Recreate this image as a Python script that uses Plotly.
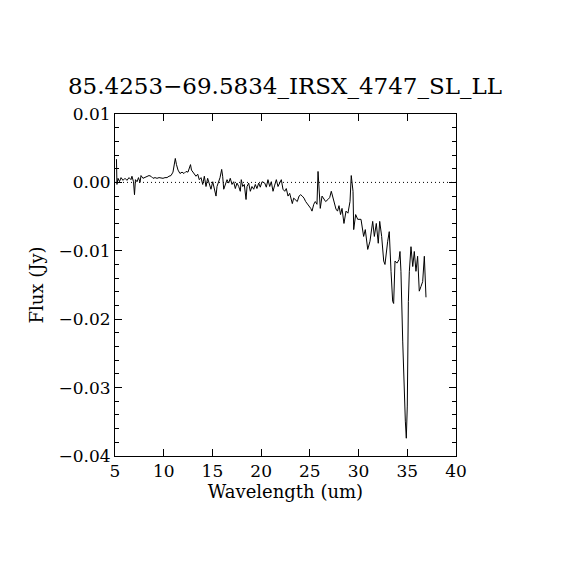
import plotly.graph_objects as go

wavelength = [5.15, 5.2, 5.31, 5.46, 5.62, 5.82, 6.03, 6.23, 6.44, 6.64, 6.74, 6.9, 7.0, 7.1, 7.26, 7.41, 7.57, 7.67, 7.87, 8.08, 8.28, 8.49, 8.69, 8.9, 9.11, 9.31, 9.52, 9.72, 9.93, 10.13, 10.34, 10.54, 10.75, 10.95, 11.06, 11.19, 11.31, 11.47, 11.67, 11.88, 12.08, 12.29, 12.49, 12.65, 12.75, 12.85, 13.0, 13.21,
              13.31, 13.49, 13.65, 13.83, 14.0, 14.17, 14.34, 14.51, 14.68, 14.85, 15.03, 15.19, 15.37, 15.47, 15.64, 15.78, 15.95, 16.05, 16.16, 16.32, 16.5, 16.67, 16.83, 17.01, 17.18, 17.35, 17.52, 17.7, 17.86, 17.96, 18.11, 18.27, 18.45, 18.55, 18.72, 18.89, 19.06, 19.24, 19.4, 19.57, 19.75, 19.91, 20.09, 20.37, 20.53, 20.7, 20.88, 21.04, 21.22, 21.39, 21.56, 21.73, 21.9, 22.07, 22.24, 22.42, 22.58, 22.76, 22.93, 23.1, 23.2, 23.34, 23.51, 23.71, 23.89, 24.06, 24.22, 24.4, 24.57, 24.74, 24.91, 25.09, 25.22, 25.4, 25.56, 25.73, 25.84, 25.94, 26.07, 26.25, 26.42, 26.62, 26.86, 27.04, 27.2, 27.38,
              27.68, 27.84, 27.99, 28.15, 28.3, 28.5, 28.71, 28.91, 29.12, 29.25, 29.43, 29.5, 29.7, 29.91, 30.25, 30.52, 30.69, 30.94, 31.17, 31.45, 31.62, 31.82, 32.02, 32.17, 32.37, 32.58, 32.71, 32.99, 33.15, 33.33, 33.5, 33.6, 33.74, 33.94, 34.15, 34.25, 34.35, 34.53, 34.69, 34.8, 34.9, 35.0, 35.11, 35.21, 35.38, 35.56, 35.72, 35.89, 36.06, 36.23, 36.41, 36.58, 36.75, 36.92]

flux = [0.0034, -0.0003, 0.0006, 0.0001, 0.0007, 0.0003, 0.0006, 0.0003, 0.0007, 0.0004, 0.0009, 0.0001, -0.0018, 0.0004, 0.0001, 0.0007, 0.0, 0.0010, 0.0006, 0.0007, 0.0009, 0.0010, 0.0009, 0.0006, 0.0007, 0.0006, 0.0007, 0.0006, 0.0006, 0.0007, 0.0007, 0.0009, 0.0010, 0.0015, 0.0023, 0.0035, 0.0026, 0.0018, 0.0013, 0.0015, 0.0013, 0.0016, 0.0015, 0.0022, 0.0026, 0.0018, 0.0015, 0.0010,
        0.0009, 0.0012, 0.0004, 0.0007, -0.0003, 0.0009, -0.0006, 0.0006, -0.0003, -0.0010, 0.0001, -0.0009, -0.0020, -0.0006, 0.0001, 0.0007, 0.0019, 0.0009, -0.0010, -0.0003, 0.0004, -0.0001, 0.0006, -0.0003, 0.0001, -0.0009, -0.0001, -0.0006, -0.0013, 0.0004, -0.0006, -0.0003, -0.0025, -0.0006, -0.0001, -0.0013, -0.0006, -0.0010, -0.0003, -0.0009, -0.0001, -0.0007, 0.0001, -0.0001, -0.0007, 0.0004, -0.0006, 0.0001, -0.0013, -0.0004, 0.0004, -0.0006, -0.0001, 0.0004, -0.0010, -0.0013, -0.0009, -0.0020, -0.0016, -0.0028, -0.0031, -0.0023, -0.0025, -0.0028, -0.0020, -0.0018, -0.0020, -0.0023, -0.0028, -0.0031, -0.0035, -0.0038, -0.0042, -0.0032, -0.0028, -0.0032, 0.0016, -0.0013, -0.0038, -0.0020, -0.0023, -0.0028, -0.0025, -0.0022, -0.0013, -0.0023,
        -0.0039, -0.0042, -0.0034, -0.0047, -0.0038, -0.0060, -0.0042, -0.0045, -0.0028, 0.0010, -0.0013, -0.0069, -0.0047, -0.0054, -0.0054, -0.0079, -0.0069, -0.0098, -0.0086, -0.0057, -0.0079, -0.0060, -0.0089, -0.0057, -0.0079, -0.0115, -0.0120, -0.0086, -0.0072, -0.0130, -0.0174, -0.0177, -0.0115, -0.0118, -0.0113, -0.0101, -0.0130, -0.0232, -0.0313, -0.0349, -0.0374, -0.0327, -0.0174, -0.0130, -0.0094, -0.0123, -0.0101, -0.0130, -0.0108, -0.0159, -0.0152, -0.0145, -0.0108, -0.0168]

title_text = "85.4253\u221269.5834_IRSX_4747_SL_LL"
x_label = "Wavelength (um)"
y_label = "Flux (Jy)"
x_ticks = [5, 10, 15, 20, 25, 30, 35, 40]
y_ticks = [0.01, 0.00, -0.01, -0.02, -0.03, -0.04]
y_ticktext = ["0.01", "0.00", "\u22120.01", "\u22120.02", "\u22120.03", "\u22120.04"]

FONT = "DejaVu Serif"

fig = go.Figure()
fig.add_trace(go.Scatter(x=wavelength, y=flux, mode="lines",
                         line=dict(color="black", width=1), showlegend=False))
fig.add_trace(go.Scatter(x=[5, 40], y=[0, 0], mode="lines",
                         line=dict(color="black", width=1, dash="1px,3px"), showlegend=False))

fig.update_layout(
    width=570, height=570,
    margin=dict(l=107, r=122, t=106, b=122),
    paper_bgcolor="white", plot_bgcolor="white",
    font=dict(family=FONT, color="black", size=17),
    title=dict(text=title_text, x=(285 - 8) / 570, xanchor="center", y=1 - 78/570, yanchor="middle",
               font=dict(family=FONT, size=23, color="black")),
)
fig.update_xaxes(
    range=[5, 40], tickvals=x_ticks, ticktext=[str(v) for v in x_ticks],
    showgrid=False, zeroline=False, showline=True, linecolor="black", linewidth=1,
    mirror="allticks", ticks="inside", ticklen=7, tickcolor="black",
    title=dict(text=x_label, standoff=4, font=dict(family=FONT, size=18)),
    tickfont=dict(family=FONT, size=17),
)
fig.update_yaxes(
    range=[-0.04, 0.01], tickvals=y_ticks, ticktext=y_ticktext,
    showgrid=False, zeroline=False, showline=True, linecolor="black", linewidth=1,
    mirror="allticks", ticks="inside", ticklen=7, tickcolor="black",
    minor=dict(dtick=0.002, ticks="inside", ticklen=4, tickcolor="black", showgrid=False),
    title=dict(text=y_label, standoff=10, font=dict(family=FONT, size=18)),
    tickfont=dict(family=FONT, size=17),
)

fig.write_html("out.html")
